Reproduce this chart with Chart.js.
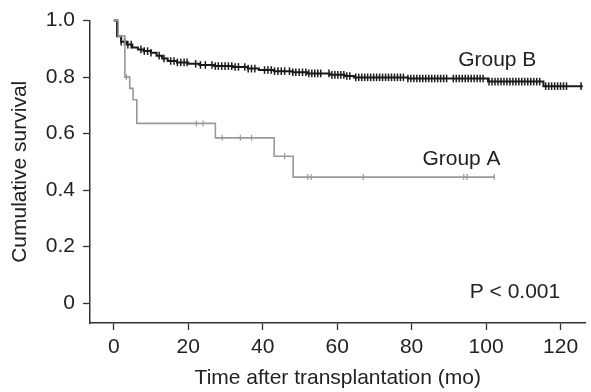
<!DOCTYPE html>
<html lang="en">
<head>
    <meta charset="UTF-8">
    <title>Cumulative survival</title>
    <script src="https://cdn.jsdelivr.net/npm/chart.js"></script>
    <style>
        body {
            margin: 0;
            background-color: white;
        }
        canvas {
            display: block;
        }
    </style>
</head>
<body>
    <canvas id="grafica" width="591" height="392"></canvas>

    <script>
        // Group A (grey) - step points: time (mo) and survival after the drop
        const tiemposA = [0, 1.2, 3.0, 4.3, 5.2, 6.2, 27.3, 43.1, 48.2, 102.2];
        const survA    = [1.0, 0.945, 0.80, 0.76, 0.72, 0.636, 0.585, 0.52, 0.446, 0.446];
        const censuradosA = [3.4, 22.2, 24.0, 29.1, 34.0, 37.0, 45.9, 52.1, 53.0, 67.0, 94.0, 94.9, 102.2];

        // Group B (black)
        const tiemposB = [0, 0.9, 2.0, 3.5, 5, 6.5, 8, 10, 11.5, 13, 14.5, 17, 20, 23, 27, 32, 36, 39,
                          43, 48, 52, 58, 62, 64.5, 79, 100.5, 115.4, 126];
        const survB    = [1.0, 0.945, 0.925, 0.915, 0.905, 0.898, 0.892, 0.886, 0.876, 0.866, 0.857,
                          0.852, 0.847, 0.843, 0.839, 0.836, 0.830, 0.825, 0.821, 0.817, 0.813, 0.808,
                          0.804, 0.799, 0.795, 0.784, 0.768, 0.768];
        const censuradosB = [
            2.0, 2.9, 3.8, 4.7, 7.3, 8.2, 9.1, 10.0, 12.2, 13.5, 15.3, 16.2, 17.1, 18.0, 18.9, 19.7,
            22.0, 23.3, 24.6, 26.4, 27.3, 28.1, 29.0, 29.9, 30.8, 31.7, 32.6, 33.5, 35.2, 36.1, 37.0,
            37.9, 40.5, 41.4, 42.3, 43.2, 44.1, 45.0, 45.9, 47.2, 48.1, 48.9, 49.8, 50.7, 51.6, 52.4,
            53.2, 54.0, 54.8, 55.6, 57.8, 58.6, 59.4, 60.2, 61.0, 61.8, 62.6, 63.4, 65.0, 65.8, 66.6,
            67.4, 68.2, 69.0, 69.8, 70.6, 71.4, 72.2, 73.0, 73.8, 74.6, 75.4, 76.2, 77.0, 77.8, 79.0,
            79.8, 80.6, 81.4, 82.2, 83.0, 83.8, 84.6, 85.4, 86.2, 87.0, 87.8, 88.6, 89.4, 91.2, 92.0,
            92.8, 93.6, 94.4, 95.2, 96.0, 96.8, 97.6, 98.4, 99.2, 100.8, 101.6, 102.4, 103.2, 104.0,
            104.8, 105.6, 106.4, 107.2, 108.0, 108.8, 109.6, 110.4, 111.2, 112.0, 112.8, 113.6, 114.4,
            116.0, 116.8, 117.6, 118.4, 119.2, 120.0, 120.8, 121.6, 125.5
        ];

        const ticksX = [0, 20, 40, 60, 80, 100, 120];
        const ticksY = [0, 0.2, 0.4, 0.6, 0.8, 1.0];

        const etiquetas = [
            { texto: "Group B", x: 92.5, y: 0.86 },
            { texto: "Group A", x: 82.9, y: 0.509 },
            { texto: "P < 0.001", x: 95.6, y: 0.037 }
        ];

        const fuente = "'Liberation Sans', Arial, sans-serif";
        const colorTexto = "#222";

        // survival value of the step curve at time t
        function survEn(tiempos, surv, t) {
            let s = surv[0];
            for (let i = 0; i < tiempos.length; i++) {
                if (tiempos[i] <= t) s = surv[i];
            }
            return s;
        }

        const puntosA = tiemposA.map((t, i) => ({ x: t, y: survA[i] }));
        const puntosB = tiemposB.map((t, i) => ({ x: t, y: survB[i] }));
        const marcasA = censuradosA.map(t => ({ x: t, y: survEn(tiemposA, survA, t) }));
        const marcasB = censuradosB.map(t => ({ x: t, y: survEn(tiemposB, survB, t) }));

        const pluginTextos = {
            id: 'textos',
            afterDatasetsDraw(chart) {
                const ctx = chart.ctx;
                const sx = chart.scales.x, sy = chart.scales.y;
                ctx.save();
                ctx.font = "21px " + fuente;
                ctx.fillStyle = colorTexto;
                ctx.textAlign = "left";
                ctx.textBaseline = "middle";
                etiquetas.forEach(e => {
                    ctx.fillText(e.texto, sx.getPixelForValue(e.x), sy.getPixelForValue(e.y));
                });
                ctx.restore();
            }
        };

        const ctx = document.getElementById('grafica').getContext('2d');
        new Chart(ctx, {
            type: 'line',
            data: {
                datasets: [
                    {
                        label: "Group A",
                        data: puntosA,
                        borderColor: "#999999",
                        borderWidth: 1.6,
                        stepped: 'before',
                        pointRadius: 0,
                        fill: false
                    },
                    {
                        label: "Group A censored",
                        type: 'scatter',
                        data: marcasA,
                        pointStyle: 'line',
                        rotation: 90,
                        pointRadius: 3,
                        borderColor: "#999999",
                        borderWidth: 1.2
                    },
                    {
                        label: "Group B",
                        data: puntosB,
                        borderColor: "#1a1a1a",
                        borderWidth: 2,
                        stepped: 'before',
                        pointRadius: 0,
                        fill: false
                    },
                    {
                        label: "Group B censored",
                        type: 'scatter',
                        data: marcasB,
                        pointStyle: 'line',
                        rotation: 90,
                        pointRadius: 3.8,
                        borderColor: "#1a1a1a",
                        borderWidth: 1.5
                    }
                ]
            },
            options: {
                responsive: false,
                animation: false,
                clip: false,
                layout: { padding: { top: 20, right: 0, left: 0, bottom: 0 } },
                plugins: {
                    legend: { display: false },
                    tooltip: { enabled: false }
                },
                scales: {
                    x: {
                        type: 'linear',
                        min: -6.37,
                        max: 126.7,
                        afterBuildTicks: s => { s.ticks = ticksX.map(v => ({ value: v })); },
                        afterFit: s => { s.height = 69; },
                        grid: {
                            drawOnChartArea: false,
                            drawTicks: true,
                            tickLength: 7,
                            tickWidth: 1.3,
                            color: "#333"
                        },
                        border: { color: "#333", width: 1.5 },
                        ticks: {
                            color: colorTexto,
                            padding: 5,
                            maxRotation: 0,
                            font: { family: fuente, size: 21 }
                        },
                        title: {
                            display: true,
                            text: "Time after transplantation (mo)",
                            color: colorTexto,
                            padding: { top: 0, bottom: 1 },
                            font: { family: fuente, size: 21 }
                        }
                    },
                    y: {
                        type: 'linear',
                        min: -0.0705,
                        max: 1.0,
                        afterBuildTicks: s => { s.ticks = ticksY.map(v => ({ value: v })); },
                        afterFit: s => { s.width = 90; },
                        grid: {
                            drawOnChartArea: false,
                            drawTicks: true,
                            tickLength: 7,
                            tickWidth: 1.3,
                            color: "#333"
                        },
                        border: { color: "#333", width: 1.5 },
                        ticks: {
                            color: colorTexto,
                            padding: 8,
                            font: { family: fuente, size: 21 },
                            callback: v => v === 0 ? "0" : v.toFixed(1)
                        },
                        title: {
                            display: true,
                            text: "Cumulative survival",
                            color: colorTexto,
                            padding: { top: 8, bottom: 0 },
                            font: { family: fuente, size: 21 }
                        }
                    }
                }
            },
            plugins: [pluginTextos]
        });
    </script>
</body>
</html>
